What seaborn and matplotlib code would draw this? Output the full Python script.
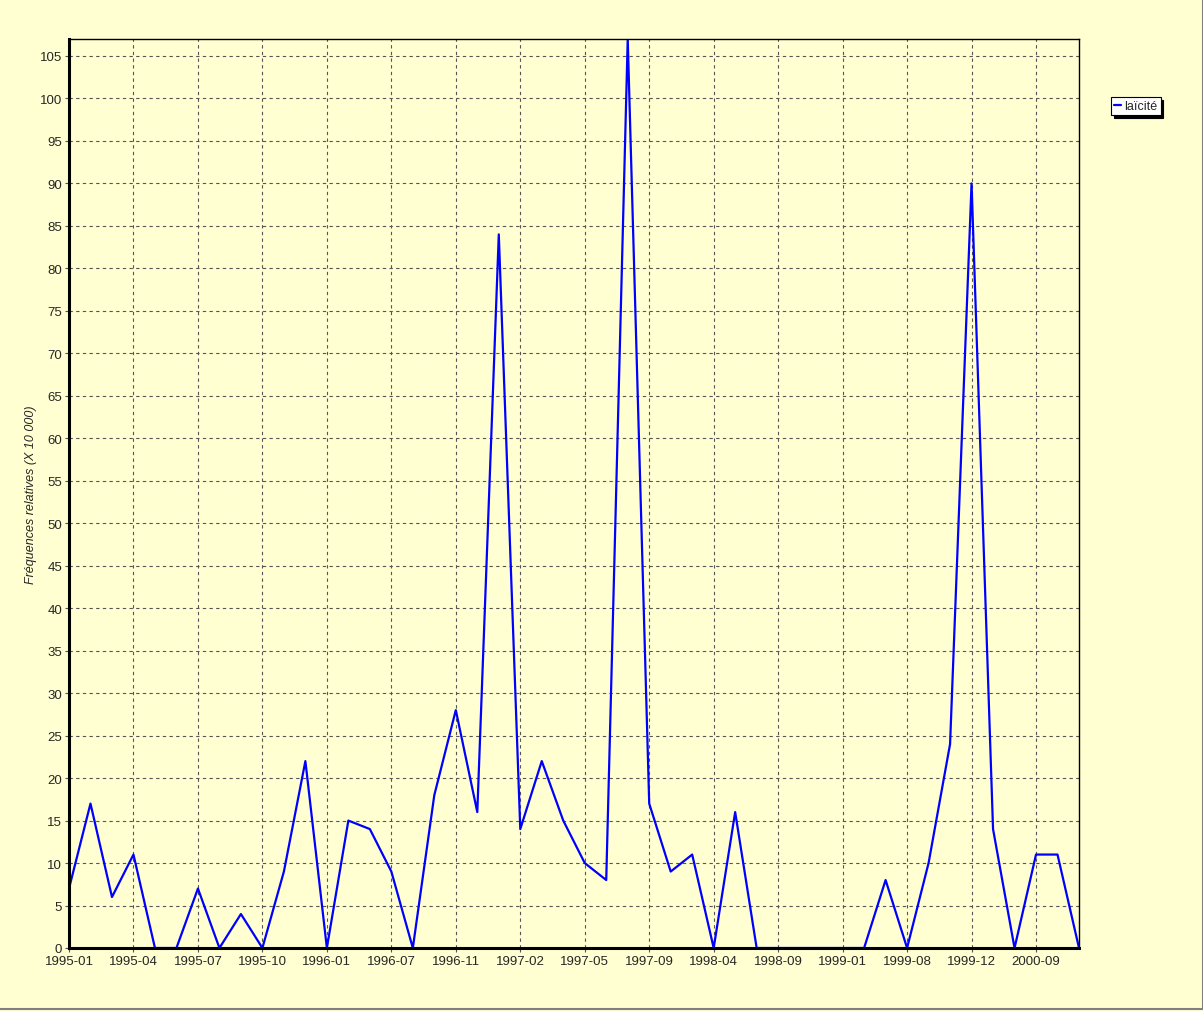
import pandas as pd
import matplotlib.pyplot as plt
import seaborn as sns

# --- data ---
values = [7, 17, 6, 11, 0, 0, 7, 0, 4, 0,
          9, 22, 0, 15, 14, 9, 0, 18, 28, 16,
          84, 14, 22, 15, 10, 8, 107, 17, 9, 11,
          0, 16, 0, 0, 0, 0, 0, 0, 8, 0,
          10, 24, 90, 14, 0, 11, 11, 0]
tick_labels = ["1995-01", "1995-04", "1995-07", "1995-10", "1996-01", "1996-07",
               "1996-11", "1997-02", "1997-05", "1997-09", "1998-04", "1998-09",
               "1999-01", "1999-08", "1999-12", "2000-09"]
series_name = "laïcité"

df = pd.DataFrame({"idx": range(len(values)), "freq": values})

bg = "#FFFFD2"
sns.set_style("ticks")
plt.rcParams["font.family"] = ["Liberation Sans", "DejaVu Sans"]

fig = plt.figure(figsize=(12.03, 10.12), dpi=100, facecolor=bg)
ax = fig.add_axes([69 / 1203, 1 - 949 / 1012, 1010 / 1203, 909 / 1012])
ax.set_facecolor(bg)

sns.lineplot(data=df, x="idx", y="freq", color="#0000FF", linewidth=1.6,
             label=series_name, ax=ax, zorder=3)

ax.set_xlim(0, len(values) - 1)
ax.set_ylim(0, 107)
ax.set_xticks(range(0, len(values), 3))
ax.set_xticklabels(tick_labels)
ax.set_yticks(range(0, 106, 5))
ax.tick_params(labelsize=9.5, length=3, width=0.8, color="#555555", pad=2)

ax.grid(True, linestyle=(0, (3, 3)), color="#555555", linewidth=0.8)
ax.set_axisbelow(True)

for side in ["left", "bottom"]:
    ax.spines[side].set_linewidth(2.2)
for side in ["top", "right"]:
    ax.spines[side].set_linewidth(1)
for s in ax.spines.values():
    s.set_color("black")
    s.set_zorder(4)

ax.set_xlabel("")
ax.set_ylabel("Fréquences relatives (X 10 000)", fontsize=9, style="italic", labelpad=2)

leg = ax.legend(loc="upper left", bbox_to_anchor=(1.032, 0.936), fancybox=False,
                shadow={"color": "black", "alpha": 1}, framealpha=1, edgecolor="black",
                fontsize=9, handlelength=0.5, handletextpad=0.3, borderpad=0.25,
                borderaxespad=0)
leg.get_frame().set_linewidth(0.8)

# thin grey border along the bottom and right edge of the image
fig.add_artist(plt.Line2D([0, 1, 1], [0.002, 0.002, 1], transform=fig.transFigure,
                          color="#808080", linewidth=1.5))

fig.savefig("out.png", dpi=100, facecolor=bg)
